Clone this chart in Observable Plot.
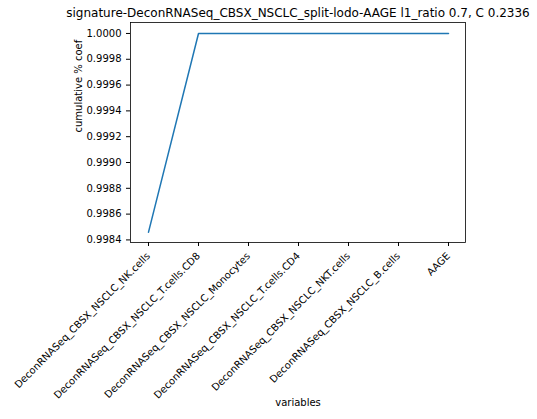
<!DOCTYPE html>
<html>
<head>
<meta charset="utf-8">
<script src="https://cdn.jsdelivr.net/npm/d3@7"></script>
<script src="https://cdn.jsdelivr.net/npm/@observablehq/plot@0.6"></script>
<style>
  body { margin: 0; background: #fff; }
</style>
</head>
<body>
<main id="chart"></main>
<script>
// data
const variables = [
  "DeconRNASeq_CBSX_NSCLC_NK.cells",
  "DeconRNASeq_CBSX_NSCLC_T.cells.CD8",
  "DeconRNASeq_CBSX_NSCLC_Monocytes",
  "DeconRNASeq_CBSX_NSCLC_T.cells.CD4",
  "DeconRNASeq_CBSX_NSCLC_NKT.cells",
  "DeconRNASeq_CBSX_NSCLC_B.cells",
  "AAGE"
];
const cumCoef = [0.99846, 1.0, 1.0, 1.0, 1.0, 1.0, 1.0];
const yTicks = [0.9984, 0.9986, 0.9988, 0.9990, 0.9992, 0.9994, 0.9996, 0.9998, 1.0000];
const title = "signature-DeconRNASeq_CBSX_NSCLC_split-lodo-AAGE l1_ratio 0.7, C 0.2336";

const rows = variables.map((v, i) => ({variable: v, coef: cumCoef[i]}));

let chart = Plot.plot({
  width: 537,
  height: 419,
  marginTop: 22,
  marginBottom: 177,
  marginLeft: 130,
  marginRight: 72,
  x: {type: "point", domain: variables, padding: 0.3, label: null},
  y: {domain: [0.99838, 1.000085], label: null},
  style: {fontFamily: "DejaVu Sans", fontSize: 10, color: "#000", background: "#fff", overflow: "visible"},
  marks: [
    Plot.frame({stroke: "#000", strokeWidth: 0.8}),
    Plot.line(rows, {x: "variable", y: "coef", stroke: "#1f77b4", strokeWidth: 1.5}),
    Plot.axisY({ticks: yTicks, tickFormat: d3.format(".4f"), tickSize: 4, label: null}),
    Plot.axisX({tickRotate: -45, tickSize: 4, label: null}),
    Plot.text([title], {frameAnchor: "top", dy: -9, fontSize: 12, lineAnchor: "middle"}),
    Plot.text(["cumulative % coef"], {frameAnchor: "left", dx: -52, rotate: -90, fontSize: 10}),
    Plot.text(["variables"], {frameAnchor: "bottom", dy: 163, fontSize: 10})
  ]
});

d3.select("#chart").append(() => chart);
</script>
</body>
</html>
